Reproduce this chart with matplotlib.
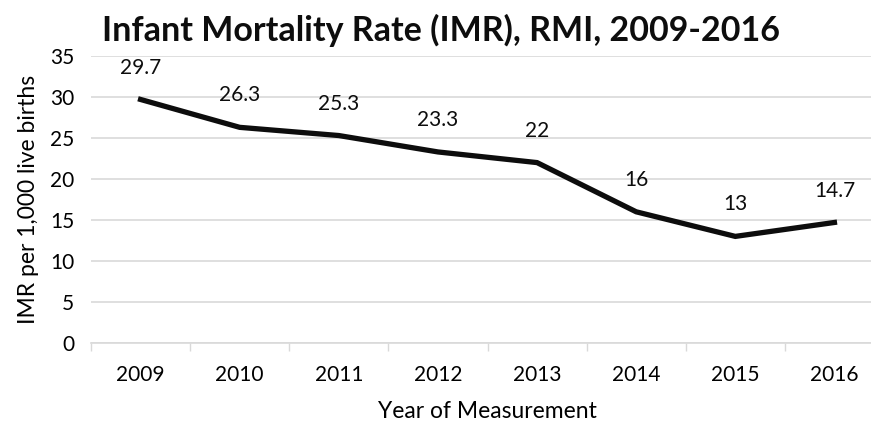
import matplotlib
matplotlib.use("Agg")
import matplotlib.pyplot as plt
import numpy as np

years = ["2009", "2010", "2011", "2012", "2013", "2014", "2015", "2016"]
imr = [29.7, 26.3, 25.3, 23.3, 22, 16, 13, 14.7]
imr_labels = ["29.7", "26.3", "25.3", "23.3", "22", "16", "13", "14.7"]
yticks = [0, 5, 10, 15, 20, 25, 30, 35]

plt.rcParams['font.family'] = ['Lato', 'DejaVu Sans']

W, H = 871, 423
fig = plt.figure(figsize=(W / 100, H / 100), dpi=100)
left, right = 91, 884
top, bottom = 56, 343
ax = fig.add_axes([left / W, 1 - bottom / H, (right - left) / W, (bottom - top) / H])

x = np.arange(len(years))
ax.plot(x, imr, color='#0d0d0d', lw=3.8, solid_joinstyle='miter', clip_on=False, zorder=3)
for xi, v, lab in zip(x, imr, imr_labels):
    ax.annotate(lab, (xi, v), xytext=(0, 23), textcoords='offset points',
                ha='center', va='center', fontsize=15, color='#0d0d0d')

ax.set_xlim(-0.5, len(years) - 0.5)
ax.set_ylim(0, 35)
ax.set_yticks(yticks)
ax.set_yticklabels([str(t) for t in yticks], fontsize=15)
ax.set_xticks(x)
ax.set_xticklabels(years, fontsize=15)
ax.set_xticks(np.arange(-0.5, len(years), 1), minor=True)
ax.tick_params(axis='x', which='major', length=0, pad=16)
ax.tick_params(axis='x', which='minor', length=6, color='#d9d9d9', width=1)
ax.tick_params(axis='y', length=0, pad=12)
ax.yaxis.grid(True, color='#d9d9d9', lw=1.2)
ax.set_axisbelow(True)
for s in ['top', 'right', 'left']:
    ax.spines[s].set_visible(False)
ax.spines['bottom'].set_color('#d9d9d9')
ax.spines['bottom'].set_linewidth(1.2)

ax.set_ylabel("IMR per 1,000 live births", fontsize=16.5, labelpad=8)
ax.set_xlabel("Year of Measurement", fontsize=16.5, labelpad=11)
fig.text(441 / W, 1 - 30 / H, "Infant Mortality Rate (IMR), RMI, 2009-2016",
         ha='center', va='center', fontsize=24.5, fontweight='bold', color='#0d0d0d')

fig.savefig("out.png", dpi=100)
